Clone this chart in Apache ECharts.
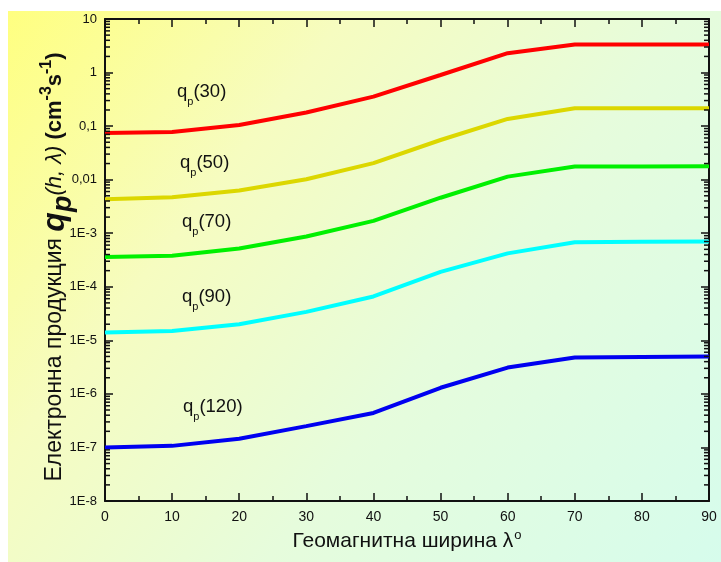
<!DOCTYPE html>
<html>
<head>
<meta charset="utf-8">
<script src="https://cdn.jsdelivr.net/npm/echarts@6/dist/echarts.min.js"></script>
<style>
  html, body { margin: 0; padding: 0; background: #fff; }
  #chart { width: 721px; height: 562px; }
</style>
</head>
<body>
<div id="chart"></div>
<script>
  var FONT = "'Liberation Sans', Arial, sans-serif";

  // geomagnetic latitude, degrees
  var latitudes = [0, 10, 20, 30, 40, 50, 60, 70, 80, 90];

  // electron production q_p(h, λ), cm^-3 s^-1, per altitude (km)
  var q30  = [0.074, 0.078, 0.105, 0.18, 0.355, 0.9, 2.3, 3.35, 3.35, 3.35];
  var q50  = [0.0043, 0.0047, 0.0063, 0.0102, 0.0204, 0.055, 0.136, 0.215, 0.215, 0.215];
  var q70  = [3.6e-4, 3.8e-4, 5.2e-4, 8.7e-4, 1.7e-3, 4.6e-3, 0.0114, 0.0176, 0.0177, 0.0178];
  var q90  = [1.4e-5, 1.5e-5, 2.0e-5, 3.4e-5, 6.6e-5, 1.9e-4, 4.2e-4, 6.8e-4, 6.9e-4, 7.0e-4];
  var q120 = [1.0e-7, 1.07e-7, 1.45e-7, 2.5e-7, 4.4e-7, 1.3e-6, 3.1e-6, 4.8e-6, 4.9e-6, 5.0e-6];

  var seriesNames = ["(30)", "(50)", "(70)", "(90)", "(120)"];
  var seriesColors = ["#ff0000", "#dcd700", "#00f000", "#00ffff", "#0000f0"];

  // y tick labels, 1E-8 .. 10
  var yTickLabels = ["1E-8", "1E-7", "1E-6", "1E-5", "1E-4", "1E-3", "0,01", "0,1", "1", "10"];
  var yMinExp = -8, yMaxExp = 1;

  // minor log ticks 2..9 in every decade
  var minorTicks = [];
  for (var e = yMinExp; e < yMaxExp; e++) {
    for (var k = 2; k <= 9; k++) minorTicks.push(k * Math.pow(10, e));
  }

  function pairs(ys) {
    return latitudes.map(function (x, i) { return [x, ys[i]]; });
  }

  var chart = echarts.init(document.getElementById("chart"));

  var axisLine = { show: true, onZero: false, lineStyle: { color: "#111", width: 2 } };

  function xAx(pos, labels) {
    return {
      type: "value", position: pos, min: 0, max: 90, interval: 10,
      axisLine: axisLine,
      axisTick: { inside: true, length: 8, lineStyle: { color: "#111", width: 1.5 } },
      minorTick: { show: true, splitNumber: 2, length: 5, lineStyle: { color: "#111", width: 1.5 } },
      axisLabel: { show: labels, fontSize: 14, color: "#111", fontFamily: FONT, margin: 9 },
      splitLine: { show: false }
    };
  }

  function yAx(pos) {
    return {
      type: "log", logBase: 10, position: pos,
      min: Math.pow(10, yMinExp), max: Math.pow(10, yMaxExp),
      axisLine: axisLine,
      axisTick: { inside: true, length: 8, lineStyle: { color: "#111", width: 1.5 } },
      axisLabel: { show: false },
      splitLine: { show: false }
    };
  }

  var yLeft = Object.assign(yAx("left"), {
    axisLabel: {
      fontSize: 13, color: "#111", fontFamily: FONT, margin: 8,
      formatter: function (v) {
        var n = Math.round(Math.log10(v));
        return yTickLabels[n - yMinExp];
      }
    },
    name: "{t|Електронна продукция }{q|q}{qs|p}{hl|(h, λ)}{b| (cm}{sup|-3}{b|s}{sup|-1}{be|)}",
    nameLocation: "middle",
    nameRotate: 90,
    nameGap: 34,
    nameMoveOverlap: false,
    nameTextStyle: {
      fontFamily: FONT, color: "#111",
      rich: {
        t: { fontSize: 23, fontFamily: FONT, color: "#111" },
        q: { fontSize: 32, fontStyle: "italic", fontWeight: "bold", fontFamily: FONT, color: "#111" },
        qs: { fontSize: 27, fontStyle: "italic", fontWeight: "bold", fontFamily: FONT, color: "#111", verticalAlign: "bottom", padding: [0, 0, -6, 0] },
        hl: { fontSize: 22, fontStyle: "italic", fontFamily: FONT, color: "#111" },
        b: { fontSize: 22, fontWeight: "bold", fontFamily: FONT, color: "#111" },
        be: { fontSize: 22, fontWeight: "bold", fontFamily: FONT, color: "#111", padding: [0, 14, 0, 0] },
        sup: { fontSize: 16, fontWeight: "bold", fontFamily: FONT, color: "#111", verticalAlign: "top", padding: [0, 0, 9, 0] }
      }
    }
  });

  var allSeries = [q30, q50, q70, q90, q120].map(function (ys, i) {
    return {
      name: seriesNames[i], type: "line", data: pairs(ys),
      xAxisIndex: 0, yAxisIndex: 0,
      showSymbol: false, symbol: "none",
      lineStyle: { color: seriesColors[i], width: 4 },
      itemStyle: { color: seriesColors[i] },
      z: 3
    };
  });

  // short inside ticks on both y axes for the minor log values
  allSeries.push({
    type: "custom", xAxisIndex: 0, yAxisIndex: 0, clip: false, silent: true, z: 4,
    data: minorTicks.map(function (v) { return [latitudes[0], v]; }),
    renderItem: function (params, api) {
      var v = api.value(1);
      var l = api.coord([latitudes[0], v]);
      var r = api.coord([latitudes[latitudes.length - 1], v]);
      var st = { stroke: "#111", lineWidth: 1.5 };
      return {
        type: "group",
        children: [
          { type: "line", shape: { x1: l[0], y1: l[1], x2: l[0] + 5, y2: l[1] }, style: st },
          { type: "line", shape: { x1: r[0] - 5, y1: r[1], x2: r[0], y2: r[1] }, style: st }
        ]
      };
    }
  });

  // curve labels: [left, centre y]
  var labelPos = [[177, 93], [180, 164], [182, 223], [182, 298], [183, 408]];
  var labelGraphics = labelPos.map(function (p, i) {
    return {
      type: "text", left: p[0], top: p[1] - 11, z: 5,
      style: {
        text: "{q|q}{s|p}{q|" + seriesNames[i] + "}",
        rich: {
          q: { fontSize: 18.5, fontFamily: FONT, fill: "#111" },
          s: { fontSize: 11, fontFamily: FONT, fill: "#111", verticalAlign: "bottom", padding: [0, 0, -6, 0] }
        }
      }
    };
  });

  chart.setOption({
    animation: false,
    backgroundColor: "#fff",
    graphic: [{
      type: "rect", z: -10, silent: true,
      shape: { x: 8, y: 11, width: 713, height: 551 },
      style: {
        fill: new echarts.graphic.LinearGradient(0, 0, 1, 1, [
          { offset: 0, color: "#ffff80" },
          { offset: 0.3, color: "#f6fcc0" },
          { offset: 0.6, color: "#e6fcdc" },
          { offset: 1, color: "#d6fcec" }
        ])
      }
    }].concat(labelGraphics),
    grid: { left: 105, right: 12, top: 19, bottom: 61 },
    xAxis: [
      Object.assign(xAx("bottom", true), {
        name: "{t|Геомагнитна ширина λ}{o|o}",
        nameLocation: "middle",
        nameGap: 28,
        nameMoveOverlap: false,
        nameTextStyle: {
          rich: {
            t: { fontSize: 21, fontFamily: FONT, color: "#111" },
            o: { fontSize: 13, fontFamily: FONT, color: "#111", verticalAlign: "top", padding: [0, 0, 11, 1] }
          }
        }
      }),
      xAx("top", false)
    ],
    yAxis: [yLeft, yAx("right")],
    series: allSeries
  });
</script>
</body>
</html>
